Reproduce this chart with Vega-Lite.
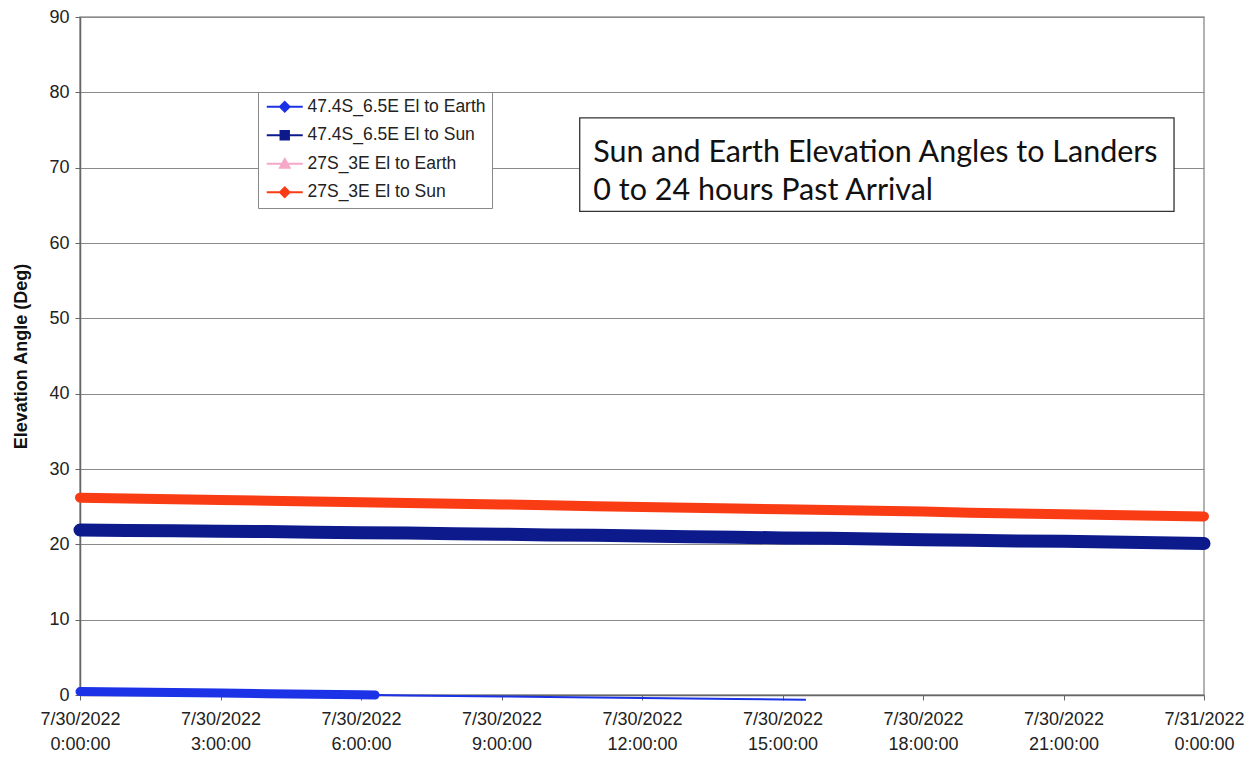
{
  "$schema": "https://vega.github.io/schema/vega-lite/v6.json",
  "width": 1124,
  "height": 678,
  "autosize": {"type": "none"},
  "padding": {"left": 80, "top": 17, "right": 56, "bottom": 63},
  "background": "white",
  "config": {
    "view": {"stroke": "#999999", "strokeWidth": 1.5},
    "font": "Liberation Sans",
    "legend": {
      "title": null, "orient": "none", "legendX": 178, "legendY": 75,
      "padding": 6, "fillColor": "white", "strokeColor": "#888888",
      "symbolSize": 144, "symbolOffset": 12, "labelOffset": 14, "labelLimit": 400,
      "labelFontSize": 17.5, "labelColor": "#222222", "labelFont": "Liberation Sans",
      "rowPadding": 9.5, "symbolStrokeWidth": 2, "symbolOpacity": 1
    }
  },
  "data": {
    "values": [
      {"series": "47.4S_6.5E El to Earth", "hour": 0, "elev": 0.45},
      {"series": "47.4S_6.5E El to Earth", "hour": 1, "elev": 0.4},
      {"series": "47.4S_6.5E El to Earth", "hour": 2, "elev": 0.33},
      {"series": "47.4S_6.5E El to Earth", "hour": 3, "elev": 0.26},
      {"series": "47.4S_6.5E El to Earth", "hour": 4, "elev": 0.18},
      {"series": "47.4S_6.5E El to Earth", "hour": 5, "elev": 0.1},
      {"series": "47.4S_6.5E El to Earth", "hour": 6, "elev": 0.03},
      {"series": "47.4S_6.5E El to Earth", "hour": 6.3, "elev": 0.0},
      {"series": "47.4S_6.5E El to Earth", "hour": 7, "elev": -0.05},
      {"series": "47.4S_6.5E El to Earth", "hour": 8, "elev": -0.12},
      {"series": "47.4S_6.5E El to Earth", "hour": 9, "elev": -0.19},
      {"series": "47.4S_6.5E El to Earth", "hour": 10, "elev": -0.26},
      {"series": "47.4S_6.5E El to Earth", "hour": 11, "elev": -0.33},
      {"series": "47.4S_6.5E El to Earth", "hour": 12, "elev": -0.4},
      {"series": "47.4S_6.5E El to Earth", "hour": 13, "elev": -0.47},
      {"series": "47.4S_6.5E El to Earth", "hour": 14, "elev": -0.53},
      {"series": "47.4S_6.5E El to Earth", "hour": 15, "elev": -0.6},
      {"series": "47.4S_6.5E El to Earth", "hour": 15.5, "elev": -0.63},
      {"series": "47.4S_6.5E El to Sun", "hour": 0, "elev": 21.9},
      {"series": "47.4S_6.5E El to Sun", "hour": 1, "elev": 21.85},
      {"series": "47.4S_6.5E El to Sun", "hour": 2, "elev": 21.8},
      {"series": "47.4S_6.5E El to Sun", "hour": 3, "elev": 21.75},
      {"series": "47.4S_6.5E El to Sun", "hour": 4, "elev": 21.7},
      {"series": "47.4S_6.5E El to Sun", "hour": 5, "elev": 21.6},
      {"series": "47.4S_6.5E El to Sun", "hour": 6, "elev": 21.55},
      {"series": "47.4S_6.5E El to Sun", "hour": 7, "elev": 21.5},
      {"series": "47.4S_6.5E El to Sun", "hour": 8, "elev": 21.4},
      {"series": "47.4S_6.5E El to Sun", "hour": 9, "elev": 21.35},
      {"series": "47.4S_6.5E El to Sun", "hour": 10, "elev": 21.25},
      {"series": "47.4S_6.5E El to Sun", "hour": 11, "elev": 21.2},
      {"series": "47.4S_6.5E El to Sun", "hour": 12, "elev": 21.1},
      {"series": "47.4S_6.5E El to Sun", "hour": 13, "elev": 21.0},
      {"series": "47.4S_6.5E El to Sun", "hour": 14, "elev": 20.95},
      {"series": "47.4S_6.5E El to Sun", "hour": 15, "elev": 20.85},
      {"series": "47.4S_6.5E El to Sun", "hour": 16, "elev": 20.8},
      {"series": "47.4S_6.5E El to Sun", "hour": 17, "elev": 20.7},
      {"series": "47.4S_6.5E El to Sun", "hour": 18, "elev": 20.6},
      {"series": "47.4S_6.5E El to Sun", "hour": 19, "elev": 20.55},
      {"series": "47.4S_6.5E El to Sun", "hour": 20, "elev": 20.45},
      {"series": "47.4S_6.5E El to Sun", "hour": 21, "elev": 20.4},
      {"series": "47.4S_6.5E El to Sun", "hour": 22, "elev": 20.3},
      {"series": "47.4S_6.5E El to Sun", "hour": 23, "elev": 20.2},
      {"series": "47.4S_6.5E El to Sun", "hour": 24, "elev": 20.1},
      {"series": "27S_3E El to Sun", "hour": 0, "elev": 26.2},
      {"series": "27S_3E El to Sun", "hour": 1, "elev": 26.1},
      {"series": "27S_3E El to Sun", "hour": 2, "elev": 26.0},
      {"series": "27S_3E El to Sun", "hour": 3, "elev": 25.9},
      {"series": "27S_3E El to Sun", "hour": 4, "elev": 25.8},
      {"series": "27S_3E El to Sun", "hour": 5, "elev": 25.7},
      {"series": "27S_3E El to Sun", "hour": 6, "elev": 25.6},
      {"series": "27S_3E El to Sun", "hour": 7, "elev": 25.5},
      {"series": "27S_3E El to Sun", "hour": 8, "elev": 25.4},
      {"series": "27S_3E El to Sun", "hour": 9, "elev": 25.3},
      {"series": "27S_3E El to Sun", "hour": 10, "elev": 25.2},
      {"series": "27S_3E El to Sun", "hour": 11, "elev": 25.05},
      {"series": "27S_3E El to Sun", "hour": 12, "elev": 24.95},
      {"series": "27S_3E El to Sun", "hour": 13, "elev": 24.85},
      {"series": "27S_3E El to Sun", "hour": 14, "elev": 24.75},
      {"series": "27S_3E El to Sun", "hour": 15, "elev": 24.65},
      {"series": "27S_3E El to Sun", "hour": 16, "elev": 24.55},
      {"series": "27S_3E El to Sun", "hour": 17, "elev": 24.45},
      {"series": "27S_3E El to Sun", "hour": 18, "elev": 24.35},
      {"series": "27S_3E El to Sun", "hour": 19, "elev": 24.2},
      {"series": "27S_3E El to Sun", "hour": 20, "elev": 24.1},
      {"series": "27S_3E El to Sun", "hour": 21, "elev": 24.0},
      {"series": "27S_3E El to Sun", "hour": 22, "elev": 23.9},
      {"series": "27S_3E El to Sun", "hour": 23, "elev": 23.8},
      {"series": "27S_3E El to Sun", "hour": 24, "elev": 23.7}
    ]
  },
  "layer": [
    {
      "mark": {"type": "line", "strokeWidth": 2},
      "encoding": {
        "x": {
          "field": "hour", "type": "quantitative",
          "scale": {"domain": [0, 24], "nice": false, "zero": false},
          "axis": {
            "values": [0, 3, 6, 9, 12, 15, 18, 21, 24],
            "grid": false, "title": null,
            "labelExpr": "[datum.value == 24 ? '7/31/2022' : '7/30/2022', (datum.value == 24 ? 0 : datum.value) + ':00:00']",
            "labelFontSize": 18, "labelColor": "#222222", "labelLineHeight": 25,
            "labelPadding": 10, "tickSize": 5, "tickColor": "#666666",
            "domainColor": "#666666", "domainWidth": 1.5, "labelFlush": false, "labelOverlap": false
          }
        },
        "y": {
          "field": "elev", "type": "quantitative",
          "scale": {"domain": [0, 90], "nice": false},
          "axis": {
            "values": [0, 10, 20, 30, 40, 50, 60, 70, 80, 90],
            "grid": true, "gridColor": "#8a8a8a", "gridWidth": 1.2,
            "title": "Elevation Angle (Deg)", "titleFontSize": 18, "titleFontWeight": "bold",
            "titleColor": "#111111", "titlePadding": 18,
            "labelFontSize": 18, "labelColor": "#222222", "labelPadding": 6,
            "tickSize": 5, "tickColor": "#666666", "domainColor": "#666666", "domainWidth": 1.5
          }
        },
        "stroke": {
          "field": "series", "type": "nominal",
          "scale": {
            "domain": ["47.4S_6.5E El to Earth", "47.4S_6.5E El to Sun", "27S_3E El to Earth", "27S_3E El to Sun"],
            "range": ["#1c32e6", "#0c1a8c", "#f5a8c8", "#fa3c14"]
          }
        },
        "detail": {"field": "series"}
      }
    },
    {
      "transform": [{"filter": "datum.elev >= 0 && datum.series == '47.4S_6.5E El to Earth'"}],
      "mark": {"type": "line", "strokeCap": "round", "strokeWidth": 9},
      "encoding": {
        "x": {"field": "hour", "type": "quantitative"},
        "y": {"field": "elev", "type": "quantitative"},
        "stroke": {"field": "series", "type": "nominal"}
      }
    },
    {
      "transform": [{"filter": "datum.series == '47.4S_6.5E El to Sun'"}],
      "mark": {"type": "line", "strokeCap": "round", "strokeWidth": 13},
      "encoding": {
        "x": {"field": "hour", "type": "quantitative"},
        "y": {"field": "elev", "type": "quantitative"},
        "stroke": {"field": "series", "type": "nominal"}
      }
    },
    {
      "transform": [{"filter": "datum.series == '27S_3E El to Sun'"}],
      "mark": {"type": "line", "strokeCap": "round", "strokeWidth": 10},
      "encoding": {
        "x": {"field": "hour", "type": "quantitative"},
        "y": {"field": "elev", "type": "quantitative"},
        "stroke": {"field": "series", "type": "nominal"}
      }
    },
    {
      "data": {"values": [{}]},
      "mark": {"type": "rect", "fill": "white", "stroke": "#333333", "strokeWidth": 1.3},
      "encoding": {
        "x": {"datum": 10.67, "type": "quantitative"},
        "x2": {"datum": 23.36},
        "y": {"datum": 76.6, "type": "quantitative"},
        "y2": {"datum": 64.2}
      }
    },
    {
      "data": {"values": [{}]},
      "mark": {
        "type": "text", "align": "left", "baseline": "alphabetic",
        "font": "Lato", "fontSize": 30.5, "color": "#111111", "lineHeight": 38,
        "text": ["Sun and Earth Elevation Angles to Landers", "0 to 24 hours Past Arrival"]
      },
      "encoding": {
        "x": {"datum": 10.96, "type": "quantitative"},
        "y": {"datum": 70.7, "type": "quantitative"}
      }
    },
    {
      "transform": [{"filter": "datum.hour < -100"}],
      "mark": {"type": "point", "filled": true, "opacity": 1},
      "encoding": {
        "x": {"field": "hour", "type": "quantitative"},
        "y": {"field": "elev", "type": "quantitative"},
        "stroke": {"field": "series", "type": "nominal"},
        "fill": {
          "field": "series", "type": "nominal",
          "scale": {
            "domain": ["47.4S_6.5E El to Earth", "47.4S_6.5E El to Sun", "27S_3E El to Earth", "27S_3E El to Sun"],
            "range": ["#1c32e6", "#0c1a8c", "#f5a8c8", "#fa3c14"]
          }
        },
        "shape": {
          "field": "series", "type": "nominal",
          "scale": {
            "domain": ["47.4S_6.5E El to Earth", "47.4S_6.5E El to Sun", "27S_3E El to Earth", "27S_3E El to Sun"],
            "range": [
              "M-3,0H3M0,-0.8L0.8,0L0,0.8L-0.8,0Z",
              "M-3,0H3M-0.7,-0.7H0.7V0.7H-0.7Z",
              "M-3,0H3M0,-0.8L0.8,0.65H-0.8Z",
              "M-3,0H3M0,-0.8L0.8,0L0,0.8L-0.8,0Z"
            ]
          }
        }
      }
    }
  ]
}
